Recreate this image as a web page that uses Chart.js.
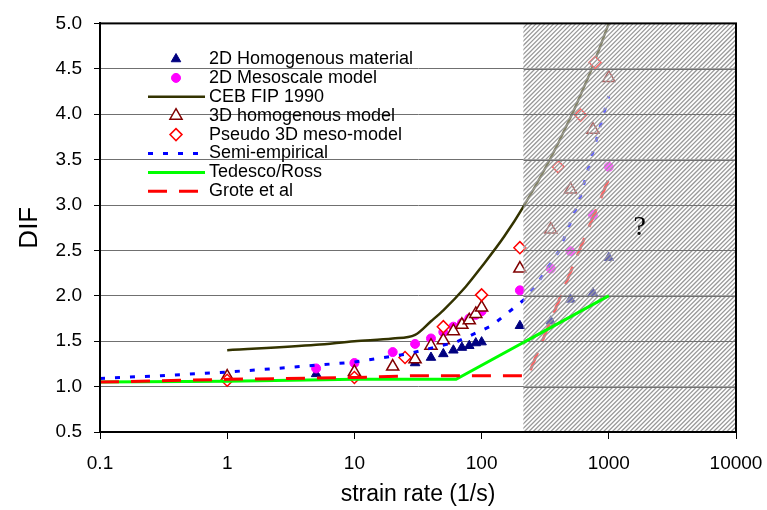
<!DOCTYPE html>
<html>
<head>
<meta charset="utf-8">
<script src="https://cdn.jsdelivr.net/npm/chart.js@4.4.0/dist/chart.umd.min.js"></script>
<style>
  html, body { margin: 0; padding: 0; background: #fff; }
</style>
</head>
<body>
<canvas id="chart" width="767" height="510"></canvas>
<script>
// axis ticks
const xTicks = [0.1, 1, 10, 100, 1000, 10000];
const xTickLabels = ['0.1', '1', '10', '100', '1000', '10000'];
const yTicks = [0.5, 1.0, 1.5, 2.0, 2.5, 3.0, 3.5, 4.0, 4.5, 5.0];
const yTickLabels = ['0.5', '1.0', '1.5', '2.0', '2.5', '3.0', '3.5', '4.0', '4.5', '5.0'];

// 2D Homogenous material
const homog2dX = [5, 30, 40, 50, 60, 70, 80, 90, 100, 200, 350, 500, 750, 1000];
const homog2dY = [1.14, 1.26, 1.32, 1.36, 1.40, 1.43, 1.45, 1.48, 1.49, 1.67, 1.72, 1.96, 2.03, 2.42];

// 2D Mesoscale model
const meso2dX = [5, 10, 20, 30, 40, 50, 60, 70, 80, 90, 100, 200, 350, 500, 750, 1000];
const meso2dY = [1.20, 1.26, 1.38, 1.47, 1.53, 1.60, 1.66, 1.70, 1.75, 1.79, 1.83, 2.06, 2.30, 2.49, 2.89, 3.42];

// CEB FIP 1990
const cebX = [1, 5, 10, 20, 30, 40, 50, 75, 100, 150, 215, 400, 700, 1000];
const cebY = [1.40, 1.46, 1.50, 1.53, 1.57, 1.72, 1.84, 2.10, 2.32, 2.65, 2.99, 3.68, 4.43, 5.0];

// 3D homogenous model
const homog3dX = [1, 10, 20, 30, 40, 50, 60, 70, 80, 90, 100, 200, 350, 500, 750, 1000];
const homog3dY = [1.11, 1.16, 1.22, 1.30, 1.45, 1.51, 1.61, 1.68, 1.73, 1.80, 1.87, 2.30, 2.73, 3.17, 3.83, 4.40];

// Pseudo 3D meso-model
const meso3dX = [1, 10, 25, 50, 100, 200, 400, 600, 780];
const meso3dY = [1.07, 1.10, 1.32, 1.66, 2.01, 2.53, 3.42, 3.99, 4.57];

// Semi-empirical
const semiX = [0.1, 0.3, 1, 3, 10, 26, 63, 120, 217, 275, 405, 586, 800, 1000];
const semiY = [1.09, 1.12, 1.16, 1.21, 1.27, 1.36, 1.49, 1.67, 1.96, 2.14, 2.49, 3.05, 3.72, 4.20];

// Tedesco/Ross
const tedescoX = [0.1, 1, 10, 63, 1000];
const tedescoY = [1.05, 1.06, 1.08, 1.08, 2.0];

// Grote et al
const groteX = [0.1, 1, 10, 30, 232, 1000];
const groteY = [1.05, 1.08, 1.10, 1.12, 1.12, 3.29];

const hatchFrom = 213; // start of the shaded (extrapolated) zone
const questionAt = { x: 1750, y: 2.75 };

const FONT = '"Liberation Sans", Arial, sans-serif';

const pts = (xs, ys) => xs.map((x, i) => ({ x: x, y: ys[i] }));

const hatchPlugin = {
  id: 'hatch',
  afterDatasetsDraw(chart) {
    const ctx = chart.ctx;
    const area = chart.chartArea;
    const xs = chart.scales.x, ys = chart.scales.y;
    const left = xs.getPixelForValue(hatchFrom);
    const right = area.right, top = area.top, bottom = area.bottom;
    const h = bottom - top;

    ctx.save();
    ctx.beginPath();
    ctx.rect(left, top, right - left, h);
    ctx.clip();
    ctx.fillStyle = 'rgba(255,255,255,0.4)';
    ctx.fillRect(left, top, right - left, h);
    ctx.strokeStyle = '#999999';
    ctx.lineWidth = 1.3;
    ctx.beginPath();
    for (let k = left - h; k < right + 5; k += 4.4) {
      ctx.moveTo(k, bottom);
      ctx.lineTo(k + h, top);
    }
    ctx.stroke();
    // gridlines stay visible through the hatch
    ctx.strokeStyle = '#707070';
    ctx.lineWidth = 1;
    ctx.beginPath();
    ys.ticks.forEach(t => {
      const p = Math.round(ys.getPixelForValue(t.value)) + 0.5;
      ctx.moveTo(left, p);
      ctx.lineTo(right, p);
    });
    ctx.stroke();
    // Tedesco/Ross line sits on top of the hatch
    chart.getDatasetMeta(6).controller.draw();
    ctx.restore();

    // plot frame
    ctx.save();
    ctx.strokeStyle = '#000';
    ctx.lineWidth = 2;
    ctx.strokeRect(area.left, area.top, area.right - area.left, area.bottom - area.top);
    ctx.restore();

    // question mark
    ctx.save();
    ctx.fillStyle = '#000';
    ctx.font = '28px "Liberation Serif", "Times New Roman", serif';
    ctx.textAlign = 'center';
    ctx.textBaseline = 'middle';
    ctx.fillText('?', xs.getPixelForValue(questionAt.x), ys.getPixelForValue(questionAt.y));
    ctx.restore();
  }
};

const legendPlugin = {
  id: 'insideLegend',
  afterDraw(chart) {
    const ctx = chart.ctx;
    const x0 = 148, x1 = 205, xm = 176, xt = 209;
    let y = 59;
    ctx.save();
    ctx.font = '18px ' + FONT;
    ctx.textBaseline = 'middle';
    chart.data.datasets.forEach(ds => {
      if (ds.showLine === false) {
        ctx.fillStyle = ds.backgroundColor;
        ctx.strokeStyle = ds.borderColor;
        ctx.lineWidth = ds.borderWidth || 1;
        Chart.helpers.drawPoint(ctx, {
          pointStyle: ds.pointStyle, radius: ds.pointRadius, rotation: 0,
          borderWidth: ds.borderWidth || 0
        }, xm, y);
      } else {
        ctx.strokeStyle = ds.borderColor;
        ctx.lineWidth = ds.borderWidth;
        ctx.setLineDash(ds.borderDash || []);
        ctx.beginPath();
        ctx.moveTo(x0, y);
        ctx.lineTo(x1, y);
        ctx.stroke();
        ctx.setLineDash([]);
      }
      ctx.fillStyle = '#000';
      ctx.fillText(ds.label, xt, y);
      y += 18.9;
    });
    ctx.restore();
  }
};

const marker = (label, xs, ys, style, r, fill, stroke, bw, order) => ({
  label: label, data: pts(xs, ys), showLine: false,
  pointStyle: style, pointRadius: r, pointHoverRadius: r,
  backgroundColor: fill, borderColor: stroke, borderWidth: bw,
  pointBackgroundColor: fill, pointBorderColor: stroke, pointBorderWidth: bw,
  order: order
});

const curve = (label, xs, ys, color, width, dash, smooth, order) => ({
  label: label, data: pts(xs, ys), showLine: true,
  borderColor: color, backgroundColor: color, borderWidth: width,
  borderDash: dash, pointRadius: 0, fill: false,
  cubicInterpolationMode: smooth ? 'monotone' : 'default', tension: 0,
  order: order
});

new Chart(document.getElementById('chart'), {
  type: 'scatter',
  data: {
    datasets: [
      marker('2D Homogenous material', homog2dX, homog2dY, 'triangle', 5.5, '#000080', '#000080', 1, 10),
      marker('2D Mesoscale model', meso2dX, meso2dY, 'circle', 4.5, '#FF00FF', '#FF00FF', 1, 9),
      curve('CEB FIP 1990', cebX, cebY, '#333300', 2.5, [], true, 8),
      marker('3D homogenous model', homog3dX, homog3dY, 'triangle', 7, '#FFFFFF', '#800000', 1.5, 7),
      marker('Pseudo 3D meso-model', meso3dX, meso3dY, 'rectRot', 6, '#FFFFFF', '#FF0000', 1.5, 6),
      curve('Semi-empirical', semiX, semiY, '#0000FF', 3, [5, 10], false, 5),
      curve('Tedesco/Ross', tedescoX, tedescoY, '#00FF00', 3, [], false, 4),
      curve('Grote et al', groteX, groteY, '#FF0000', 3, [19, 12], false, 3)
    ]
  },
  options: {
    responsive: false,
    animation: false,
    devicePixelRatio: 1,
    layout: { padding: { top: 20, right: 31, left: 0, bottom: 0 } },
    plugins: {
      legend: { display: false },
      tooltip: { enabled: false }
    },
    scales: {
      x: {
        type: 'logarithmic',
        min: 0.1,
        max: 10000,
        afterBuildTicks: s => { s.ticks = xTicks.map(v => ({ value: v })); },
        afterFit: s => { s.height = 78; s.paddingRight = 0; s.paddingLeft = 0; },
        ticks: {
          callback: (v, i) => xTickLabels[i],
          font: { family: FONT, size: 19 },
          color: '#000',
          padding: 13,
          maxRotation: 0,
          autoSkip: false
        },
        grid: { drawOnChartArea: false, drawTicks: true, tickLength: 7, tickColor: '#000' },
        border: { display: true, color: '#000', width: 2 },
        title: {
          display: true, text: 'strain rate (1/s)', color: '#000',
          font: { family: FONT, size: 23 }, padding: { top: 0, bottom: 2 }
        }
      },
      y: {
        type: 'linear',
        min: 0.5,
        max: 5.0,
        afterBuildTicks: s => { s.ticks = yTicks.map(v => ({ value: v })); },
        afterFit: s => { s.width = 100; },
        ticks: {
          callback: (v, i) => yTickLabels[i],
          font: { family: FONT, size: 19 },
          color: '#000',
          padding: 12
        },
        grid: { color: '#707070', lineWidth: 1, tickLength: 6, tickColor: '#000' },
        border: { display: true, color: '#000', width: 2 },
        title: {
          display: true, text: 'DIF', color: '#000',
          font: { family: FONT, size: 26 }, padding: { top: 14, bottom: 0 }
        }
      }
    }
  },
  plugins: [hatchPlugin, legendPlugin]
});
</script>
</body>
</html>
